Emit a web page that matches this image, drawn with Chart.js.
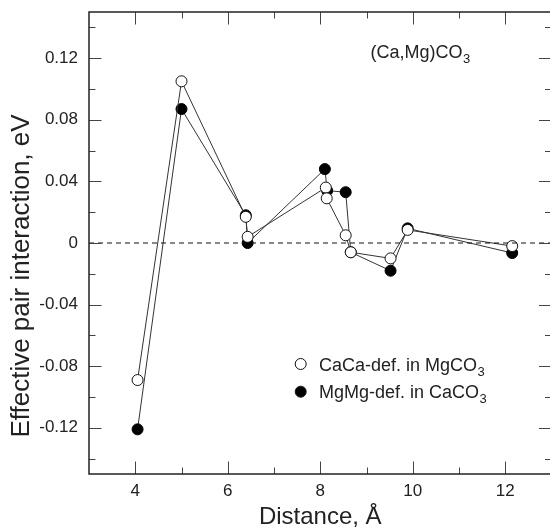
<!DOCTYPE html>
<html>
<head>
<meta charset="utf-8">
<script src="https://cdn.jsdelivr.net/npm/chart.js@4.4.0/dist/chart.umd.min.js"></script>
<style>
    html, body { margin: 0; padding: 0; overflow: hidden; background: #fff; }
    #wrap { width: 558px; height: 530px; position: relative; }
</style>
</head>
<body>
<div id="wrap"><canvas id="chart"></canvas></div>
<script>
// Distâncias (Å) e interações efetivas de par (eV)
const distCa = [4.05, 5.0, 6.39, 6.43, 8.12, 8.14, 8.55, 8.66, 9.52, 9.89, 12.15];
const epiCa  = [-0.089, 0.105, 0.017, 0.004, 0.036, 0.029, 0.005, -0.006, -0.010, 0.0085, -0.002];
const distMg = [4.05, 5.0, 6.39, 6.43, 8.10, 8.15, 8.55, 8.66, 9.52, 9.89, 12.15];
const epiMg  = [-0.121, 0.087, 0.018, 0.0, 0.048, 0.034, 0.033, -0.006, -0.018, 0.0095, -0.0065];

// Rótulos e marcas dos eixos
const xTicks = [4, 6, 8, 10, 12];
const xMinor = [5, 7, 9, 11];
const yTicks = [-0.12, -0.08, -0.04, 0, 0.04, 0.08, 0.12];
const yMinor = [-0.14, -0.10, -0.06, -0.02, 0.02, 0.06, 0.10, 0.14];

const legendCa = 'CaCa-def. in MgCO';
const legendMg = 'MgMg-def. in CaCO';
const compound = '(Ca,Mg)CO';
const xTitle = 'Distance, Å';
const yTitle = 'Effective pair interaction, eV';

const FONT = '"Liberation Sans", Arial, Helvetica, sans-serif';
const INK = '#222';

function toPoints(xs, ys) {
    return xs.map((x, i) => ({ x: x, y: ys[i] }));
}

// Texto com subscrito "3"
function drawSub(ctx, text, x, y, size) {
    ctx.font = size + 'px ' + FONT;
    ctx.textAlign = 'left';
    ctx.textBaseline = 'alphabetic';
    ctx.fillText(text, x, y);
    const w = ctx.measureText(text).width;
    ctx.font = Math.round(size * 0.72) + 'px ' + FONT;
    ctx.fillText('3', x + w + 0.5, y + 5);
}

// Moldura, marcas internas, linha zero, legenda e anotações
const decorPlugin = {
    id: 'decor',
    afterDraw(chart) {
        const ctx = chart.ctx;
        const a = chart.chartArea;
        const xs = chart.scales.x, ys = chart.scales.y;
        ctx.save();

        // linha tracejada em zero
        const y0 = ys.getPixelForValue(0);
        ctx.strokeStyle = '#111';
        ctx.lineWidth = 1;
        ctx.setLineDash([5, 4]);
        ctx.beginPath();
        ctx.moveTo(a.left, y0);
        ctx.lineTo(a.right, y0);
        ctx.stroke();
        ctx.setLineDash([]);

        // marcas
        ctx.strokeStyle = '#444';
        ctx.lineWidth = 1;
        const tickX = (vals, len) => vals.forEach(v => {
            const px = Math.round(xs.getPixelForValue(v)) + 0.5;
            ctx.beginPath();
            ctx.moveTo(px, a.bottom); ctx.lineTo(px, a.bottom - len);
            ctx.moveTo(px, a.top); ctx.lineTo(px, a.top + len);
            ctx.stroke();
        });
        const tickY = (vals, len) => vals.forEach(v => {
            const py = Math.round(ys.getPixelForValue(v)) + 0.5;
            ctx.beginPath();
            ctx.moveTo(a.left, py); ctx.lineTo(a.left + len, py);
            ctx.moveTo(a.right, py); ctx.lineTo(a.right - len, py);
            ctx.stroke();
        });
        tickX(xTicks, 12.5);
        tickX(xMinor, 6.5);
        tickY(yTicks, 12.5);
        tickY(yMinor, 6.5);

        // moldura
        ctx.strokeStyle = INK;
        ctx.lineWidth = 1.5;
        ctx.strokeRect(a.left, a.top, a.right - a.left, a.bottom - a.top);

        // título do eixo y
        ctx.fillStyle = INK;
        ctx.save();
        ctx.translate(22, 276);
        ctx.rotate(-Math.PI / 2);
        ctx.font = '26px ' + FONT;
        ctx.textAlign = 'center';
        ctx.textBaseline = 'middle';
        ctx.fillText(yTitle, 0, 0);
        ctx.restore();

        // anotação
        drawSub(ctx, compound, 370.5, 57.5, 18);

        // legenda
        ctx.lineWidth = 1;
        ctx.strokeStyle = '#111';
        ctx.fillStyle = '#fff';
        ctx.beginPath();
        ctx.arc(300.7, 364, 5.5, 0, Math.PI * 2);
        ctx.fill(); ctx.stroke();
        ctx.fillStyle = '#000';
        ctx.beginPath();
        ctx.arc(300.7, 391.7, 5.5, 0, Math.PI * 2);
        ctx.fill(); ctx.stroke();
        ctx.fillStyle = INK;
        drawSub(ctx, legendCa, 319, 370.7, 18);
        drawSub(ctx, legendMg, 319, 398.3, 18);

        ctx.restore();
    }
};

const ctx = document.getElementById('chart').getContext('2d');
new Chart(ctx, {
    type: 'scatter',
    data: {
        datasets: [{
            label: legendCa,
            data: toPoints(distCa, epiCa),
            showLine: true,
            borderColor: '#333',
            borderWidth: 1,
            pointRadius: 5.5,
            pointBackgroundColor: '#fff',
            pointBorderColor: '#111',
            pointBorderWidth: 1,
            order: 0
        }, {
            label: legendMg,
            data: toPoints(distMg, epiMg),
            showLine: true,
            borderColor: '#333',
            borderWidth: 1,
            pointRadius: 5.5,
            pointBackgroundColor: '#000',
            pointBorderColor: '#000',
            pointBorderWidth: 1,
            order: 1
        }]
    },
    options: {
        responsive: true,
        maintainAspectRatio: false,
        animation: false,
        devicePixelRatio: 1,
        layout: { padding: { top: 12, right: 5, left: 0, bottom: 0 } },
        plugins: {
            legend: { display: false },
            tooltip: { enabled: false }
        },
        scales: {
            x: {
                type: 'linear',
                min: 3,
                max: 13,
                afterBuildTicks: s => { s.ticks = xTicks.map(v => ({ value: v })); },
                afterFit: s => { s.height = 56; s.paddingLeft = 0; s.paddingRight = 0; },
                grid: { display: false, drawTicks: false },
                border: { display: false },
                ticks: {
                    padding: 7,
                    color: INK,
                    font: { family: FONT, size: 17 },
                    maxRotation: 0
                },
                title: {
                    display: true,
                    text: xTitle,
                    color: INK,
                    font: { family: FONT, size: 24, lineHeight: 1 },
                    padding: { top: 0, bottom: 1 }
                }
            },
            y: {
                type: 'linear',
                min: -0.15,
                max: 0.15,
                afterBuildTicks: s => { s.ticks = yTicks.map(v => ({ value: v })); },
                afterFit: s => { s.width = 89; s.paddingTop = 0; s.paddingBottom = 0; },
                grid: { display: false, drawTicks: false },
                border: { display: false },
                ticks: {
                    padding: 11,
                    color: INK,
                    font: { family: FONT, size: 17 },
                    callback: v => (Math.abs(v) < 1e-9 ? '0' : v.toFixed(2))
                }
            }
        }
    },
    plugins: [decorPlugin]
});
</script>
</body>
</html>
